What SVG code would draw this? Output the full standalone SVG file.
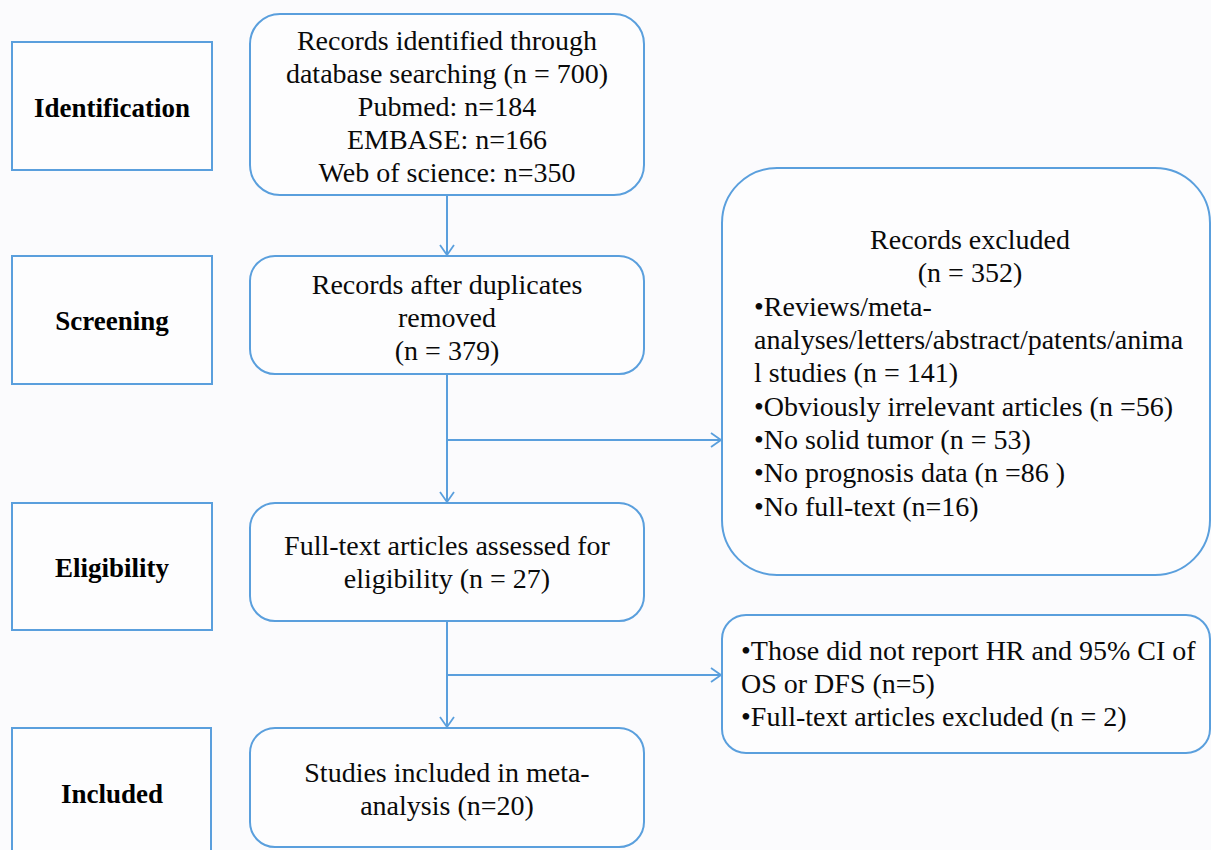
<svg xmlns="http://www.w3.org/2000/svg" width="1211" height="850" viewBox="0 0 1211 850">
<defs>
<style>
.bg{fill:#fbfbfd}
.box{fill:#fdfdfe;stroke:#5a9fdd;stroke-width:2}
.conn{fill:none;stroke:#5a9fdd;stroke-width:2}
.lbl{font-family:"Liberation Serif","Times New Roman",serif;font-size:27px;font-weight:bold;fill:#000;text-anchor:middle}
.t{font-family:"Liberation Serif","Times New Roman",serif;font-size:28px;fill:#0a0a0a}
.c{text-anchor:middle}
</style>
<marker id="arr" markerWidth="14" markerHeight="16" refX="12" refY="8" orient="auto" markerUnits="userSpaceOnUse">
<path d="M2,1 L12,8 L2,15" fill="none" stroke="#5a9fdd" stroke-width="1.8"/>
</marker>
</defs>
<rect class="bg" x="0" y="0" width="1211" height="850"/>

<g id="identification">
<rect class="box" x="12" y="42" width="200" height="128"/>
<text class="lbl" x="112" y="117">Identification</text>
</g>
<g id="screening">
<rect class="box" x="12" y="256" width="200" height="128"/>
<text class="lbl" x="112" y="330">Screening</text>
</g>
<g id="eligibility">
<rect class="box" x="12" y="503" width="200" height="127"/>
<text class="lbl" x="112" y="577">Eligibility</text>
</g>
<g id="included">
<rect class="box" x="12" y="728" width="199" height="140"/>
<text class="lbl" x="112" y="803">Included</text>
</g>

<g id="records-identified">
<rect class="box" x="250" y="14" width="394" height="181" rx="30"/>
<text class="t c" x="447" y="50">Records identified through</text>
<text class="t c" x="447" y="83">database searching (n = 700)</text>
<text class="t c" x="447" y="116">Pubmed: n=184</text>
<text class="t c" x="447" y="149">EMBASE: n=166</text>
<text class="t c" x="447" y="182">Web of science: n=350</text>
</g>
<g id="records-after-duplicates">
<rect class="box" x="250" y="256" width="394" height="118" rx="25"/>
<text class="t c" x="447" y="294">Records after duplicates</text>
<text class="t c" x="447" y="327">removed</text>
<text class="t c" x="447" y="360">(n = 379)</text>
</g>
<g id="full-text-assessed">
<rect class="box" x="250" y="503" width="394" height="118" rx="25"/>
<text class="t c" x="447" y="555">Full-text articles assessed for</text>
<text class="t c" x="447" y="588">eligibility (n = 27)</text>
</g>
<g id="studies-included">
<rect class="box" x="250" y="728" width="394" height="119" rx="25"/>
<text class="t c" x="447" y="782">Studies included in meta-</text>
<text class="t c" x="447" y="815">analysis (n=20)</text>
</g>
<g id="records-excluded">
<rect class="box" x="722" y="168" width="488" height="407" rx="55"/>
<text class="t c" x="970" y="249">Records excluded</text>
<text class="t c" x="970" y="282">(n = 352)</text>
<text class="t" x="754" y="316">•Reviews/meta-</text>
<text class="t" x="754" y="349">analyses/letters/abstract/patents/anima</text>
<text class="t" x="754" y="382">l studies (n = 141)</text>
<text class="t" x="754" y="416">•Obviously irrelevant articles (n =56)</text>
<text class="t" x="754" y="449">•No solid tumor (n = 53)</text>
<text class="t" x="754" y="482">•No prognosis data (n =86 )</text>
<text class="t" x="754" y="516">•No full-text (n=16)</text>
</g>
<g id="full-text-excluded">
<rect class="box" x="722" y="615" width="488" height="138" rx="24"/>
<text class="t" x="741" y="660">•Those did not report HR and 95% CI of</text>
<text class="t" x="741" y="693">OS or DFS (n=5)</text>
<text class="t" x="741" y="726">•Full-text articles excluded (n = 2)</text>
</g>

<g id="connectors">
<line class="conn" x1="447" y1="195" x2="447" y2="255" marker-end="url(#arr)"/>
<line class="conn" x1="447" y1="374" x2="447" y2="502" marker-end="url(#arr)"/>
<line class="conn" x1="447" y1="440" x2="721" y2="440" marker-end="url(#arr)"/>
<line class="conn" x1="447" y1="621" x2="447" y2="727" marker-end="url(#arr)"/>
<line class="conn" x1="447" y1="675" x2="721" y2="675" marker-end="url(#arr)"/>
</g>
</svg>
